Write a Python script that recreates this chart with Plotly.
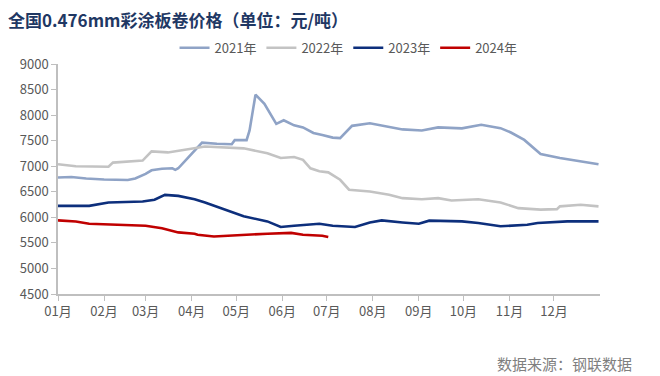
import plotly.graph_objects as go

TITLE = "全国0.476mm彩涂板卷价格（单位：元/吨）"
SOURCE = "数据来源：钢联数据"
MONTH_LABELS = ["01月", "02月", "03月", "04月", "05月", "06月",
                "07月", "08月", "09月", "10月", "11月", "12月"]
MONTH_STARTS = ["01-01", "02-01", "03-01", "04-01", "05-01", "06-01",
                "07-01", "08-01", "09-01", "10-01", "11-01", "12-01"]

dates_2021 = ["01-01", "01-10", "01-20", "02-01", "02-17", "02-22", "03-01", "03-05",
              "03-12", "03-19", "03-21", "03-23", "03-29", "04-03", "04-08", "04-18",
              "04-28", "04-30", "05-08", "05-10", "05-14", "05-20", "05-28", "06-02",
              "06-09", "06-15", "06-22", "06-28", "07-05", "07-10", "07-18", "07-30",
              "08-09", "08-21", "09-03", "09-14", "09-30", "10-13", "10-26", "11-02",
              "11-11", "11-20", "11-22", "12-05", "12-21", "12-31"]
values_2021 = [6780, 6790, 6760, 6740, 6730, 6760, 6850, 6920,
               6950, 6960, 6930, 6960, 7150, 7310, 7460, 7440,
               7430, 7510, 7510, 7700, 8400, 8220, 7830, 7900,
               7800, 7760, 7650, 7610, 7560, 7550, 7790, 7840,
               7790, 7720, 7700, 7760, 7740, 7810, 7745, 7660,
               7515, 7290, 7240, 7160, 7090, 7040]

dates_2022 = ["01-01", "01-13", "02-04", "02-07", "02-27", "03-05", "03-16", "03-29",
              "04-10", "05-06", "05-22", "05-31", "06-09", "06-15", "06-20", "06-26",
              "07-02", "07-10", "07-16", "07-30", "08-12", "08-21", "09-03", "09-14",
              "09-23", "10-11", "10-26", "11-07", "11-22", "12-03", "12-05", "12-19",
              "12-31"]
values_2022 = [7040, 7000, 6990, 7070, 7110, 7290, 7270, 7330,
               7385, 7350, 7255, 7160, 7180, 7125, 6960, 6900,
               6880, 6735, 6540, 6505, 6440, 6375, 6355, 6375,
               6330, 6355, 6290, 6180, 6150, 6160, 6215, 6245,
               6215]

dates_2023 = ["01-01", "01-22", "02-04", "02-27", "03-07", "03-14", "03-23", "03-27",
              "04-03", "04-10", "04-23", "05-06", "05-22", "05-31", "06-09", "06-20",
              "06-26", "07-05", "07-20", "07-30", "08-07", "08-21", "09-01", "09-08",
              "09-30", "10-11", "10-26", "11-13", "11-20", "12-10", "12-31"]
values_2023 = [6225, 6225, 6290, 6310, 6345, 6440, 6420, 6395,
               6355, 6290, 6150, 6020, 5920, 5810, 5835, 5855,
               5875, 5835, 5810, 5900, 5940, 5900, 5875, 5935,
               5920, 5890, 5825, 5855, 5890, 5920, 5920]

dates_2024 = ["01-01", "01-13", "01-22", "02-13", "03-01", "03-12", "03-23", "04-03",
              "04-05", "04-16", "05-06", "05-22", "06-07", "06-15", "06-28", "07-02"]
values_2024 = [5940, 5920, 5875, 5855, 5835, 5785, 5705, 5680,
               5660, 5625, 5660, 5680, 5695, 5660, 5640, 5615]

SERIES = [
    ("2021年", dates_2021, values_2021, "#8FA3C6"),
    ("2022年", dates_2022, values_2022, "#C3C3C3"),
    ("2023年", dates_2023, values_2023, "#0D2F7C"),
    ("2024年", dates_2024, values_2024, "#C00000"),
]

BASE_YEAR = "2021-"
FONT = "Noto Sans CJK SC"

fig = go.Figure()
for name, ds, vs, color in SERIES:
    fig.add_trace(go.Scatter(
        x=[BASE_YEAR + d for d in ds], y=vs, name=name, mode="lines",
        line=dict(color=color, width=2.6),
    ))

fig.update_layout(
    width=652, height=368,
    margin=dict(l=44, r=60, t=56, b=82),
    paper_bgcolor="white", plot_bgcolor="white",
    font=dict(family=FONT, color="#595959", size=13),
    showlegend=True,
    legend=dict(orientation="h", x=0.215, xanchor="left", y=1.005, yanchor="bottom",
                font=dict(size=13, color="#595959"), itemwidth=30,
                bgcolor="rgba(0,0,0,0)", traceorder="normal"),
    title=dict(text="<b>" + TITLE + "</b>", x=0.0, xanchor="left", y=0.982, yanchor="top",
               font=dict(family=FONT, size=17, color="#1F3864")),
)

fig.update_xaxes(
    type="date",
    range=[BASE_YEAR + "01-01", "2022-01-01"],
    tickvals=[BASE_YEAR + m for m in MONTH_STARTS],
    ticktext=MONTH_LABELS,
    showline=True, linecolor="#BFBFBF", linewidth=1.5,
    ticks="outside", ticklen=5, tickcolor="#BFBFBF",
    showgrid=False, zeroline=False,
    tickfont=dict(size=13, color="#595959"),
)
fig.update_yaxes(
    range=[4500, 9000], dtick=500, tick0=4500,
    showline=True, linecolor="#BFBFBF", linewidth=1.5,
    ticks="outside", ticklen=5, tickcolor="#BFBFBF",
    showgrid=False, zeroline=False,
    tickfont=dict(size=13, color="#595959"),
)

fig.add_annotation(text=SOURCE, xref="paper", yref="paper", x=1.062, y=-0.30,
                   xanchor="right", yanchor="middle", showarrow=False,
                   font=dict(size=15, color="#7F7F7F"))

fig.write_html("out.html")
